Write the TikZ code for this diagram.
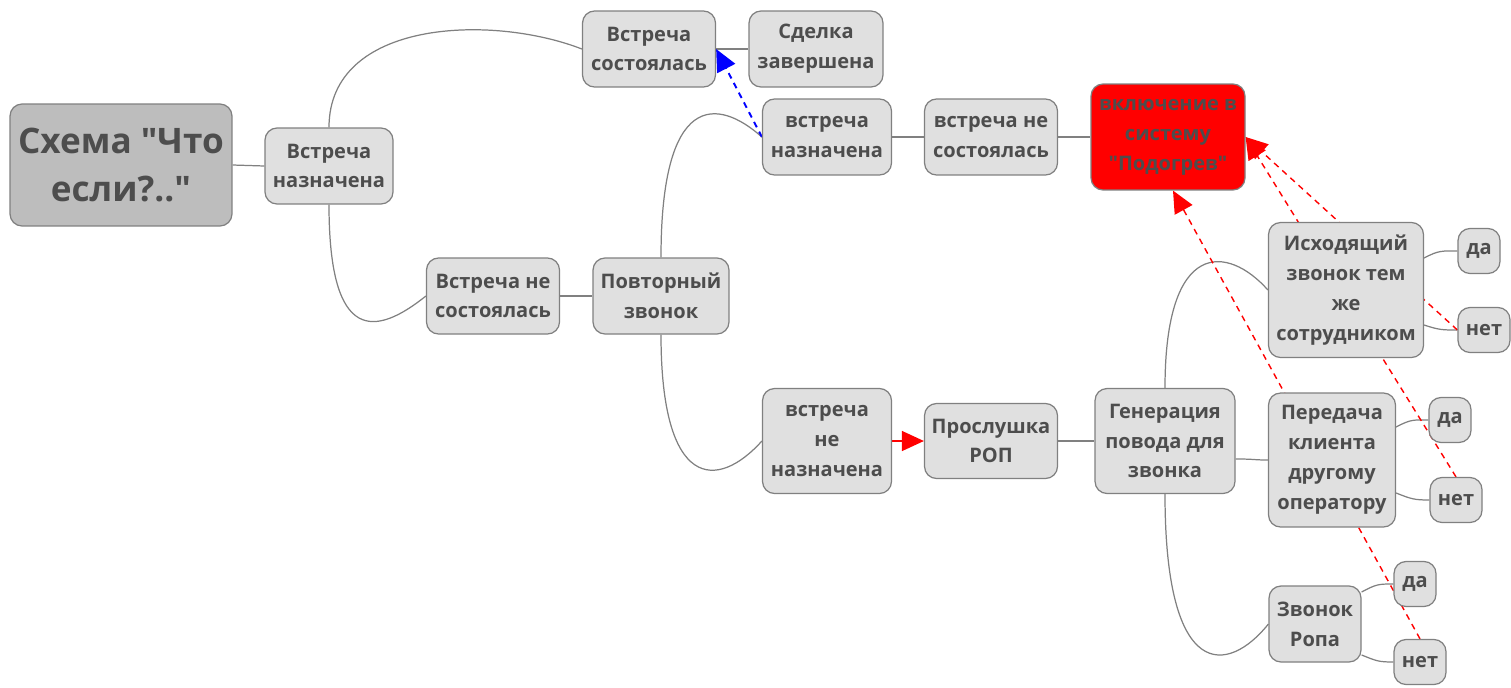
\documentclass[tikz,border=0pt]{standalone}
\usepackage{fontspec}
\setmainfont{Open Sans}[Ligatures=TeXOff]
\usetikzlibrary{arrows.meta}
\pgfdeclarelayer{bg}
\pgfsetlayers{bg,main}
\definecolor{boxgray}{HTML}{E0E0E0}
\definecolor{rootgray}{HTML}{BDBDBD}
\definecolor{linegray}{HTML}{808080}
\definecolor{textgray}{HTML}{4D4D4D}
\newcommand*{\txt}{\fontsize{11.4}{17}\selectfont\bfseries}

\begin{document}
\begin{tikzpicture}[x=0.02cm,y=-0.02cm,
  box/.style={draw=linegray,fill=boxgray,line width=0.7pt,rounded corners=0.24cm,
    text=textgray,font=\txt,align=center,inner sep=1pt},
  link/.style={draw=linegray,line width=0.7pt},
  hint/.style={dash pattern=on 0.12cm off 0.1cm,line width=0.8pt,
    -{Triangle[length=0.44cm,width=0.4cm]}}]
\useasboundingbox (0,0) rectangle (1511,687);
% Root and first level
\node[box,fill=rootgray,font=\fontsize{20}{27}\selectfont\bfseries,
  minimum width=4.44cm,minimum height=2.44cm] (root) at (121,165) {Схема "Что\\если?.."};
\node[box,minimum width=2.56cm,minimum height=1.52cm] (met) at (329,166) {Встреча\\назначена};
% Upper branch
\node[box,minimum width=2.66cm,minimum height=1.52cm] (held) at (649,49) {Встреча\\состоялась};
\node[box,minimum width=2.68cm,minimum height=1.52cm] (deal) at (816,49) {Сделка\\завершена};
% Lower branch
\node[box,minimum width=2.66cm,minimum height=1.52cm] (fail) at (493,296) {Встреча не\\состоялась};
\node[box,minimum width=2.72cm,minimum height=1.52cm] (recall) at (661,296) {Повторный\\звонок};
\node[box,minimum width=2.58cm,minimum height=1.52cm] (met2) at (827,137) {встреча\\назначена};
\node[box,minimum width=2.66cm,minimum height=1.52cm] (fail2) at (991,137) {встреча не\\состоялась};
\node[box,fill=red,minimum width=3.08cm,minimum height=2.12cm] (warm) at (1168,137) {включение в\\систему\\"Подогрев"};
\node[box,minimum width=2.58cm,minimum height=2.10cm] (nomet) at (827,441) {встреча\\не\\назначена};
\node[box,minimum width=2.66cm,minimum height=1.50cm] (listen) at (991,441) {Прослушка\\РОП};
\node[box,minimum width=2.80cm,minimum height=2.10cm] (reason) at (1165,441) {Генерация\\повода для\\звонка};
% Options
\node[box,minimum width=3.10cm,minimum height=2.70cm] (same) at (1346,290) {Исходящий\\звонок тем\\же\\сотрудником};
\node[box,minimum width=0.84cm,minimum height=0.90cm] (sameyes) at (1479,251) {да};
\node[box,minimum width=1.04cm,minimum height=0.90cm] (sameno) at (1484,330) {нет};
\node[box,minimum width=2.54cm,minimum height=2.68cm] (other) at (1332,460) {Передача\\клиента\\другому\\оператору};
\node[box,minimum width=0.84cm,minimum height=0.90cm] (otheryes) at (1450,420) {да};
\node[box,minimum width=1.04cm,minimum height=0.90cm] (otherno) at (1456,500) {нет};
\node[box,minimum width=1.84cm,minimum height=1.52cm] (rop) at (1315,624) {Звонок\\Ропа};
\node[box,minimum width=0.84cm,minimum height=0.90cm] (ropyes) at (1415,584) {да};
\node[box,minimum width=1.04cm,minimum height=0.90cm] (ropno) at (1420,662) {нет};
\begin{pgfonlayer}{bg}
% Tree links
\draw[link] (root.east) -- (met.west);
\draw[link] (met.north) .. controls +(0,-108) and +(-90,-35) .. (held.west);
\draw[link] (met.south) .. controls +(0,140) and +(-50,40) .. (fail.west);
\draw[link] (held.east) -- (deal.west);
\draw[link] (fail.east) -- (recall.west);
\draw[link] (recall.north) .. controls +(0,-165) and +(-45,-40) .. (met2.west);
\draw[link] (recall.south) .. controls +(0,155) and +(-45,50) .. (nomet.west);
\draw[link] (met2.east) -- (fail2.west);
\draw[link] (fail2.east) -- (warm.west);
\draw[link] (listen.east) -- (reason.west);
\draw[link] (reason.north) .. controls +(0,-150) and +(-40,-45) .. (same.west);
\draw[link] ([yshift=-0.36cm]reason.east) .. controls +(20,0) and +(-15,0) .. (other.west);
\draw[link] (reason.south) .. controls +(0,190) and +(-40,50) .. (rop.west);
\draw[link] ([yshift=0.64cm]same.east) .. controls +(15,-8) and +(-15,0) .. (sameyes.west);
\draw[link] ([yshift=-0.7cm]same.east) .. controls +(15,5) and +(-15,0) .. (sameno.west);
\draw[link] ([yshift=0.66cm]other.east) .. controls +(15,-8) and +(-15,0) .. (otheryes.west);
\draw[link] ([yshift=-0.66cm]other.east) .. controls +(15,6) and +(-15,0) .. (otherno.west);
\draw[link] ([yshift=0.64cm]rop.east) .. controls +(15,-8) and +(-15,0) .. (ropyes.west);
\draw[link] ([yshift=-0.62cm]rop.east) .. controls +(15,6) and +(-15,0) .. (ropno.west);
% Jumps
\draw[hint,blue,line width=1.1pt] (met2.west) -- (held.east);
\draw[hint,red] (sameno.west) -- (warm.east);
\draw[hint,red] (otherno.north) -- (warm.east);
\draw[hint,red] (ropno.north) -- ([xshift=0.1cm]warm.south);
\draw[red,line width=0.8pt,-{Triangle[length=0.44cm,width=0.4cm]}] (nomet.east) -- (listen.west);
\end{pgfonlayer}
\end{tikzpicture}
\end{document}
